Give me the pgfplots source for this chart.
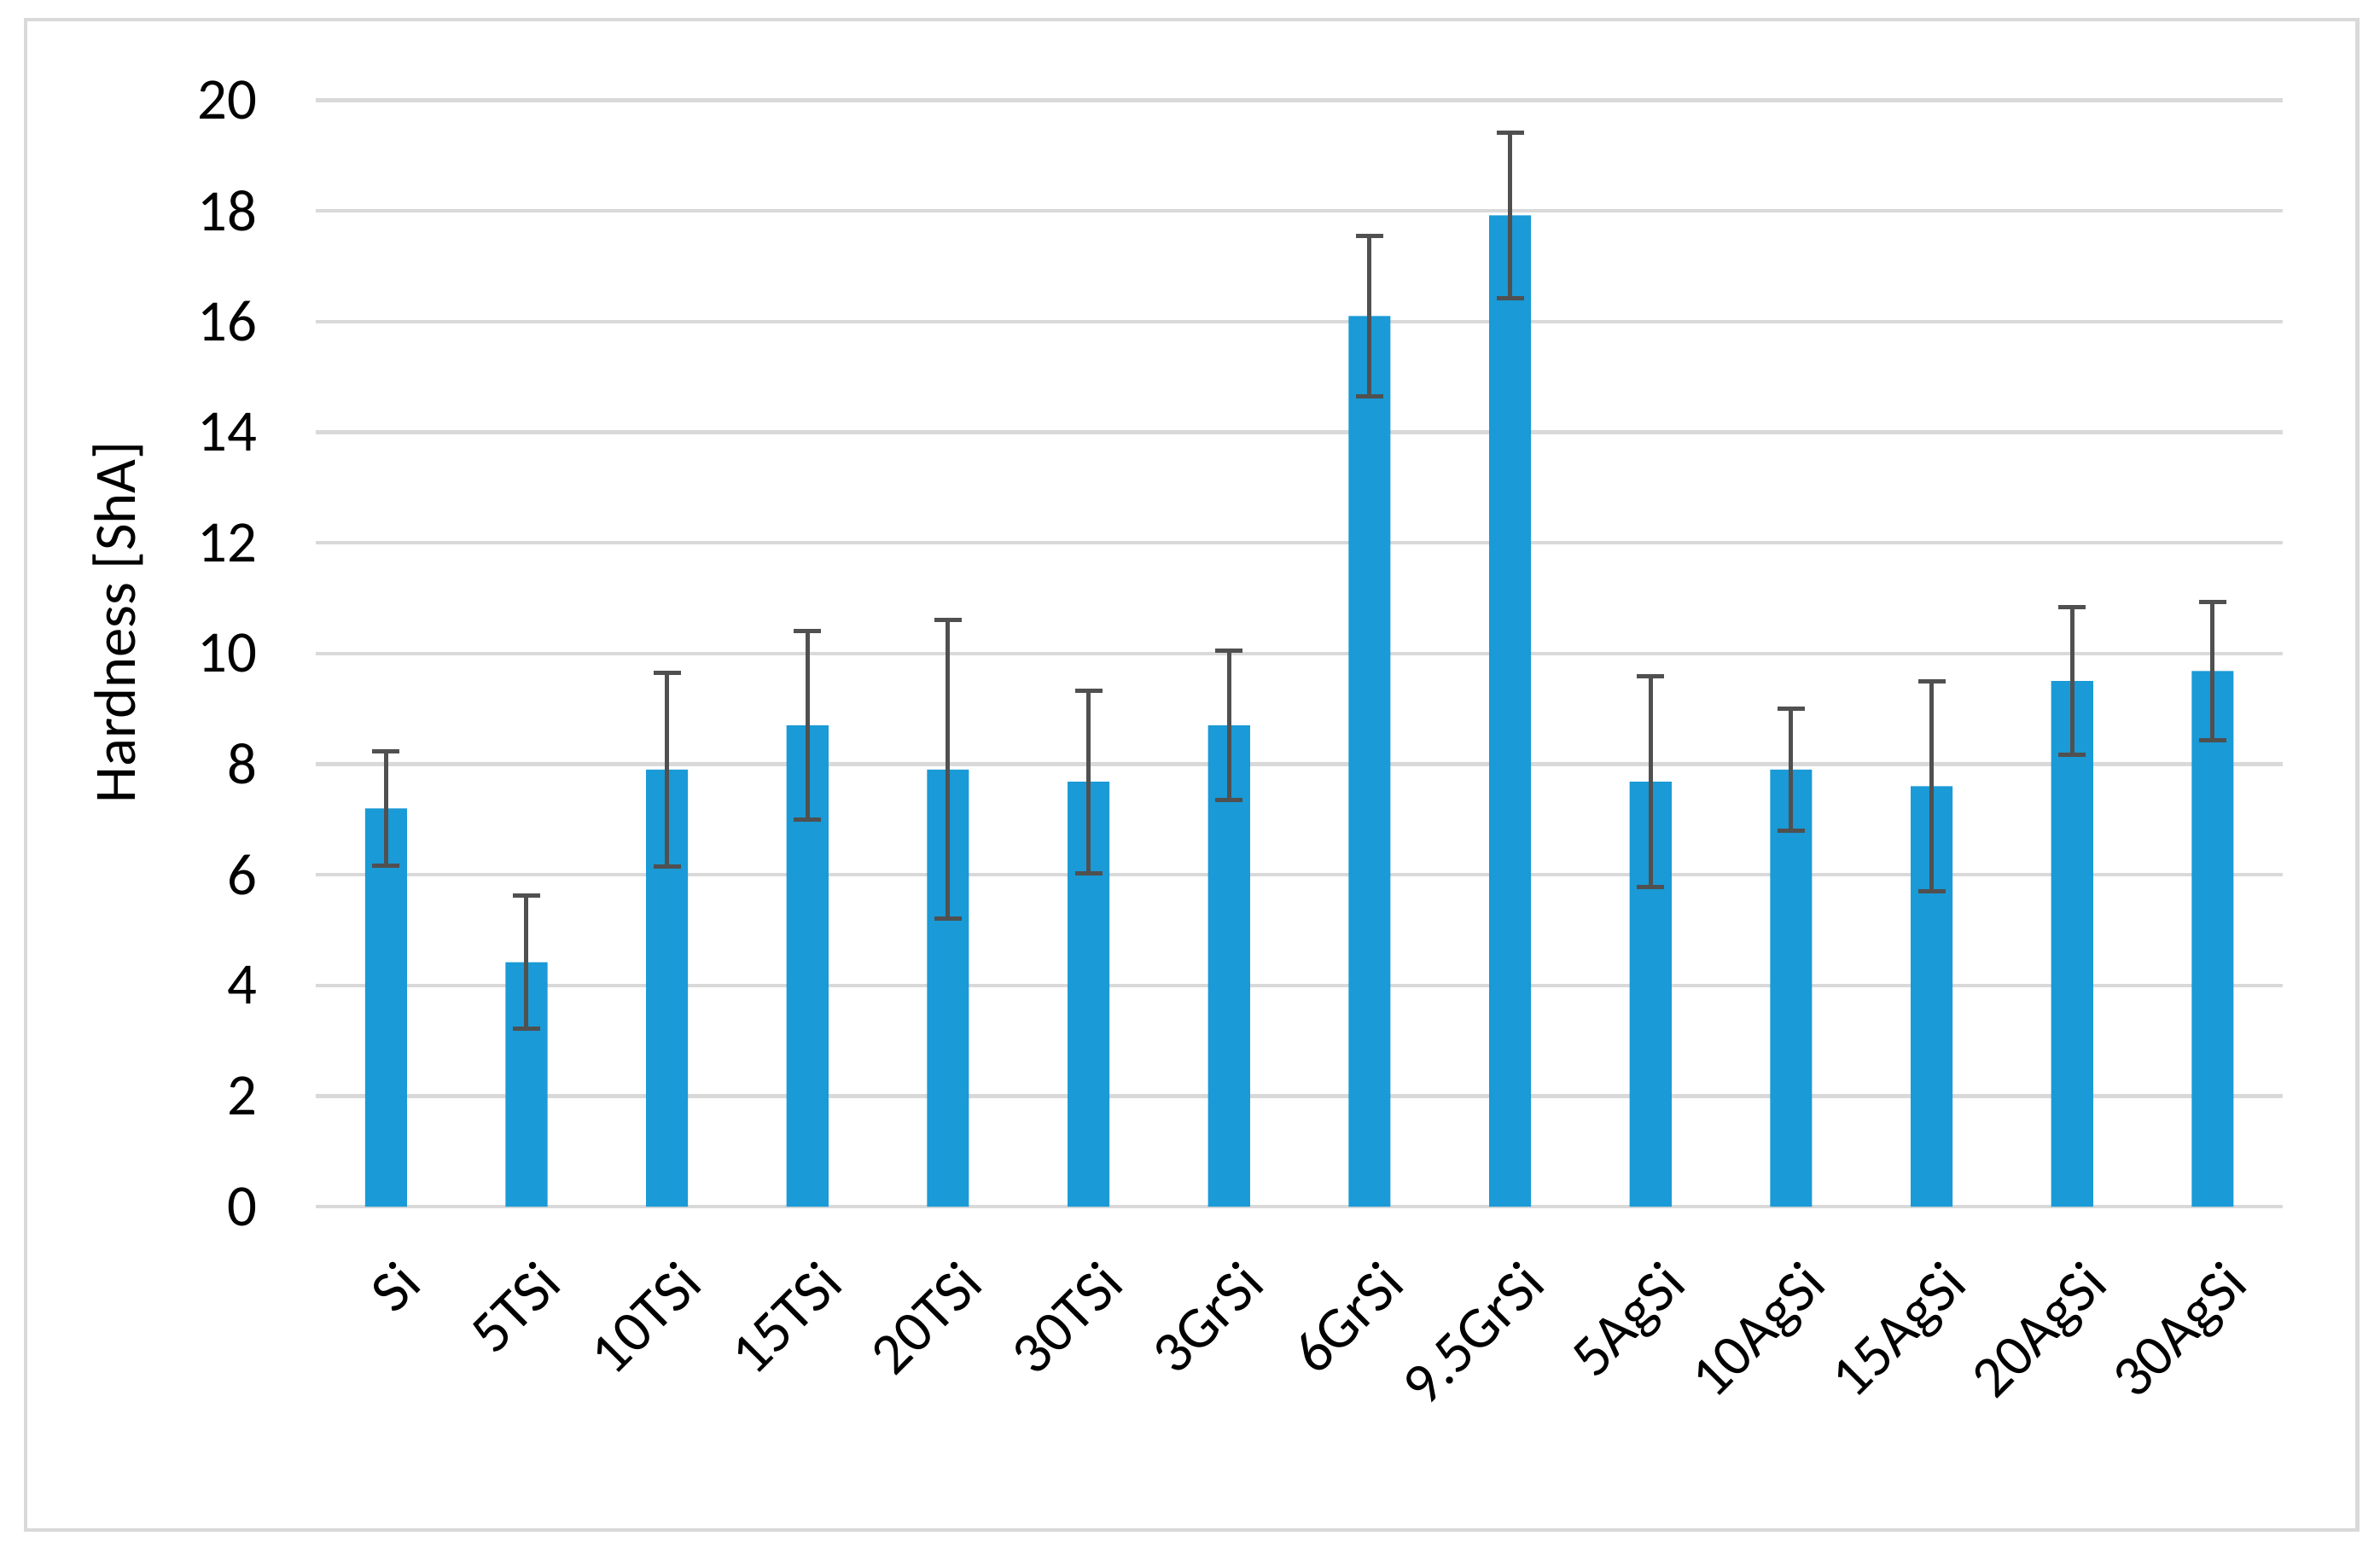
\documentclass[border=0pt]{standalone}
\usepackage{fontspec}
\setmainfont{Carlito}
\usepackage{pgfplots}
\usepackage{pgfplotstable}
\pgfplotsset{compat=1.18}
\definecolor{barblue}{HTML}{1A9AD6}
\definecolor{errgray}{HTML}{505050}
\definecolor{gridgray}{HTML}{D9D9D9}
\pgfplotstableread{
x y e
0 7.2 1.03
1 4.42 1.2
2 7.9 1.75
3 8.7 1.7
4 7.9 2.7
5 7.68 1.65
6 8.7 1.35
7 16.1 1.45
8 17.92 1.5
9 7.68 1.9
10 7.9 1.1
11 7.6 1.9
12 9.5 1.33
13 9.68 1.25
}\datatable
\begin{document}
\begin{tikzpicture}
\path (0mm,0mm) rectangle (156.8mm,102.7mm);
\draw[gridgray, line width=0.7pt] (1.7mm,1.9mm) rectangle (155.3mm,101.4mm);
\begin{axis}[
  at={(20.8mm,23.2mm)}, anchor=south west,
  scale only axis, width=129.6mm, height=72.9mm,
  ybar, bar width=2.76mm,
  xmin=-0.5, xmax=13.5, ymin=0, ymax=20,
  enlargelimits=false,
  xtick={0,...,13},
  xticklabels={Si,5TSi,10TSi,15TSi,20TSi,30TSi,3GrSi,6GrSi,9.5GrSi,5AgSi,10AgSi,15AgSi,20AgSi,30AgSi},
  ytick={0,2,...,20},
  major tick length=0pt,
  axis lines*=left,
  y axis line style={draw=none},
  x axis line style={gridgray, line width=0.7pt},
  ymajorgrids, grid style={gridgray, line width=0.7pt},
  /pgf/number format/assume math mode=true,
  tick label style={font=\fontsize{11}{13}\selectfont, black},
  yticklabel style={inner sep=0pt, anchor=east, xshift=-3.8mm},
  xticklabel style={inner sep=0pt, xshift=0.6mm, yshift=-3.3mm, rotate=45, anchor=north east},
  ylabel={Hardness [ShA]},
  ylabel style={font=\fontsize{11}{13}\selectfont, at={(axis description cs:-0.1003,0.528)}, anchor=center, rotate=0},
]
\addplot[fill=barblue, draw=none,
  error bars/.cd, y dir=both, y explicit,
  error bar style={errgray, line width=0.8pt},
  error mark options={rotate=90, errgray, line width=0.8pt, mark size=0.9mm}]
  table[x=x, y=y, y error=e] {\datatable};
\end{axis}
\end{tikzpicture}
\end{document}
